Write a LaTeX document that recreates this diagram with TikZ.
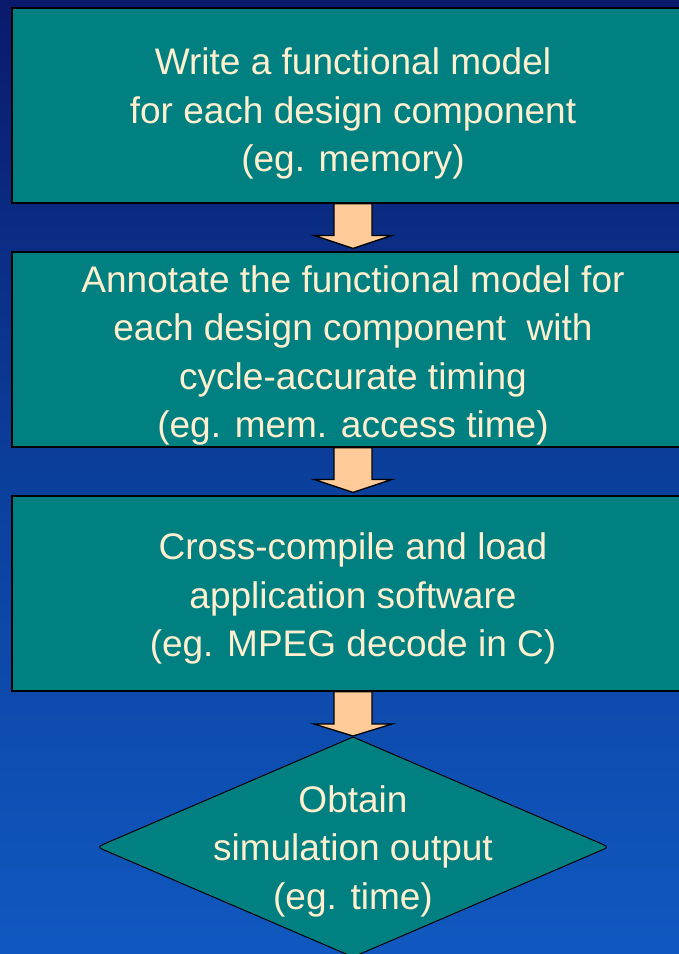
\documentclass[tikz,border=0pt]{standalone}
\usepackage{fontspec}
\setmainfont{Liberation Sans}
\usetikzlibrary{calc}
\definecolor{bgtop}{HTML}{0A1A6C}
\definecolor{bgmid}{HTML}{0B3F9C}
\definecolor{bgbot}{HTML}{1058C0}
\definecolor{teal}{HTML}{008080}
\definecolor{cream}{HTML}{FFEFCF}
\definecolor{peach}{HTML}{FFCC99}
\tikzset{
  stepbox/.style={draw=black, line width=1.2pt, fill=teal,
    minimum width=682pt, minimum height=195pt, inner sep=0pt},
  steptext/.style={text=cream, align=center, inner sep=0pt,
    font=\fontsize{37}{48.5}\selectfont},
  blockarrow/.style={draw=black, line width=1.3pt, fill=peach, line join=miter}
}
\newcommand{\myblockarrow}[2]{%
  \draw[blockarrow] ($(#1.south)+(-19,0)$) -- ($(#2.north)+(-19,16)$)
    -- ($(#2.north)+(-39,16)$) -- ($(#2.north)+(0,3)$)
    -- ($(#2.north)+(39,16)$) -- ($(#2.north)+(19,16)$)
    -- ($(#1.south)+(19,0)$) -- cycle;}
\begin{document}
\begin{tikzpicture}[x=1pt,y=1pt]
\useasboundingbox (0,0) rectangle (679,-954);
\clip (0,0) rectangle (679,-954);
\shade[top color=bgtop, bottom color=bgbot, middle color=bgmid] (0,0) rectangle (679,-954);

\node[stepbox] (b1) at (353,-105.5) {};
\node[stepbox] (b2) at (353,-349.5) {};
\node[stepbox] (b3) at (353,-593.5) {};
\node[steptext] (t1) at ($(b1.center)+(0,-8)$) {Write a functional model\\for each design component\\(eg. memory)};
\node[steptext] (t2) at ($(b2.center)+(0,-6)$) {Annotate the functional model for\\each design component\ \ with\\cycle-accurate timing\\(eg. mem. access time)};
\node[steptext] (t3) at ($(b3.center)+(0,-5)$) {Cross-compile and load\\application software\\(eg. MPEG decode in C)};

\draw[line width=1pt, fill=teal] (353,-737) -- (108,-842.3) .. controls (97,-847) .. (108,-851.7)
  -- (353,-957) -- (598,-851.7) .. controls (609,-847) .. (598,-842.3) -- cycle;
\node[steptext] (d) at (353,-851) {Obtain\\simulation output\\(eg. time)};
\coordinate (dtop) at (353,-737);

\myblockarrow{b1}{b2}
\myblockarrow{b2}{b3}
\draw[blockarrow] ($(b3.south)+(-19,0)$) -- ($(dtop)+(-19,13)$)
    -- ($(dtop)+(-39,13)$) -- ($(dtop)+(0,1)$)
    -- ($(dtop)+(39,13)$) -- ($(dtop)+(19,13)$)
    -- ($(b3.south)+(19,0)$) -- cycle;
\end{tikzpicture}
\end{document}
